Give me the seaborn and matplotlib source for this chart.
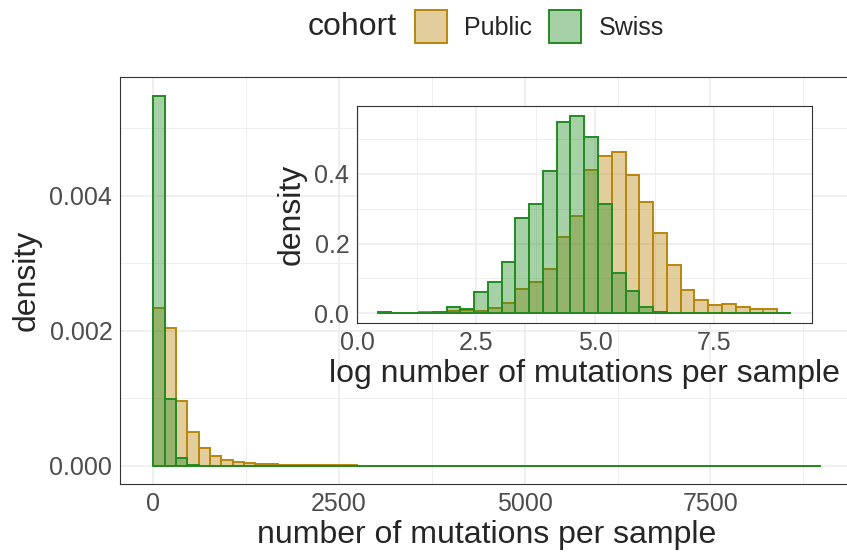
import numpy as np
import pandas as pd
import matplotlib
matplotlib.use("Agg")
import matplotlib.pyplot as plt
import seaborn as sns
from matplotlib.patches import Patch
from matplotlib.ticker import FixedLocator, FormatStrFormatter
from matplotlib.colors import to_rgba

# Main panel: density per bin, bins of equal width starting at 0
main_bin_start = 0
main_bin_width = 152.3
main_public = [0.00234, 0.002034, 0.000963, 0.000494, 0.000257, 0.000148, 0.000084,
               0.000049, 0.000035, 0.000026, 0.000020, 0.000014, 0.000010, 0.000008,
               0.000007, 0.000006, 0.000005, 0.000004] + [0.0] * 41
main_swiss = [0.005472, 0.000983, 0.000109, 0.000010] + [0.0] * 55

# Inset: log number of mutations, 30 bins
log_bin_start = 0.42
log_bin_width = 0.29
log_public = [0.0, 0.0, 0.0, 0.004, 0.002, 0.008, 0.009, 0.008, 0.014, 0.030,
              0.069, 0.089, 0.128, 0.220, 0.280, 0.412, 0.452, 0.462, 0.396, 0.320,
              0.230, 0.138, 0.068, 0.037, 0.023, 0.026, 0.017, 0.011, 0.011, 0.0]
log_swiss = [0.005, 0.0, 0.0, 0.0, 0.005, 0.018, 0.013, 0.060, 0.089, 0.148,
             0.273, 0.314, 0.409, 0.548, 0.566, 0.505, 0.314, 0.116, 0.065, 0.017,
             0.005, 0.0, 0.0, 0.0, 0.0, 0.0, 0.0, 0.0, 0.0, 0.0]

cohorts = ["Public", "Swiss"]
colors = {"Public": "#B8860B", "Swiss": "#228B22"}

sns.set_style("white")
plt.rcParams["font.family"] = ["Liberation Sans", "DejaVu Sans"]

W, H = 847, 552
fig = plt.figure(figsize=(W / 100, H / 100), dpi=100)


def draw_hist(ax, start, width, public, swiss):
    n = len(public)
    edges = start + width * np.arange(n + 1)
    centers = edges[:-1] + width / 2
    df = pd.DataFrame({
        "x": np.concatenate([centers, centers]),
        "density": public + swiss,
        "cohort": ["Public"] * n + ["Swiss"] * n,
    })
    for c in cohorts:
        sub = df[df["cohort"] == c]
        sns.histplot(data=sub, x="x", weights="density", bins=list(edges), stat="count",
                     color=colors[c], alpha=0.4, edgecolor=colors[c],
                     linewidth=1.4, ax=ax)


def style_axes(ax, xmajor, xminor, ymajor, yminor, xfmt, yfmt):
    ax.xaxis.set_major_locator(FixedLocator(xmajor))
    ax.xaxis.set_minor_locator(FixedLocator(xminor))
    ax.yaxis.set_major_locator(FixedLocator(ymajor))
    ax.yaxis.set_minor_locator(FixedLocator(yminor))
    ax.xaxis.set_major_formatter(FormatStrFormatter(xfmt))
    ax.yaxis.set_major_formatter(FormatStrFormatter(yfmt))
    ax.grid(which="major", color="#EBEBEB", linewidth=1.1)
    ax.grid(which="minor", color="#EBEBEB", linewidth=0.6)
    ax.set_axisbelow(True)
    ax.tick_params(which="major", length=3.3, width=0.8, color="#333333",
                   labelsize=18, labelcolor="#4D4D4D", pad=2.2)
    ax.tick_params(which="minor", length=0)
    for s in ax.spines.values():
        s.set_visible(True)
        s.set_color("#333333")
        s.set_linewidth(0.8)
    ax.set_facecolor("white")


# main panel
ax = fig.add_axes([120 / W, 68 / H, 733.3 / W, 407.3 / H])
draw_hist(ax, main_bin_start, main_bin_width, main_public, main_swiss)
style_axes(ax, [0, 2500, 5000, 7500], [1250, 3750, 6250, 8750],
           [0, 0.002, 0.004], [0.001, 0.003, 0.005], "%d", "%.3f")
ax.set_xlim(-449, 9424)
ax.set_ylim(-0.000274, 0.00576)
ax.set_xlabel("number of mutations per sample", fontsize=23, labelpad=3)
ax.set_ylabel("density", fontsize=23, labelpad=6)

# inset panel
axin = fig.add_axes([357 / W, (H - 323.2) / H, 454.5 / W, 217.2 / H])
axin.set_zorder(3)
draw_hist(axin, log_bin_start, log_bin_width, log_public, log_swiss)
style_axes(axin, [0, 2.5, 5.0, 7.5], [1.25, 3.75, 6.25, 8.75],
           [0, 0.2, 0.4], [0.1, 0.3, 0.5], "%.1f", "%.1f")
axin.set_xlim(-0.015, 9.555)
axin.set_ylim(-0.0283, 0.594)
axin.set_xlabel("log number of mutations per sample", fontsize=23, labelpad=3)
axin.set_ylabel("density", fontsize=23, labelpad=6)

# legend on top
handles = [Patch(facecolor=to_rgba(colors[c], 0.4), edgecolor=colors[c],
                 linewidth=1.4, label=c) for c in cohorts]
fig.legend(handles=handles, loc="center", bbox_to_anchor=(539.5 / W, 1 - 26.5 / H),
           ncol=2, frameon=False, fontsize=18, handlelength=1.28, handleheight=1.65,
           handletextpad=0.68, columnspacing=0.68, borderpad=0)
fig.text(397 / W, 1 - 27 / H, "cohort", ha="right", va="center", fontsize=23)

fig.savefig("out.png", dpi=100)
